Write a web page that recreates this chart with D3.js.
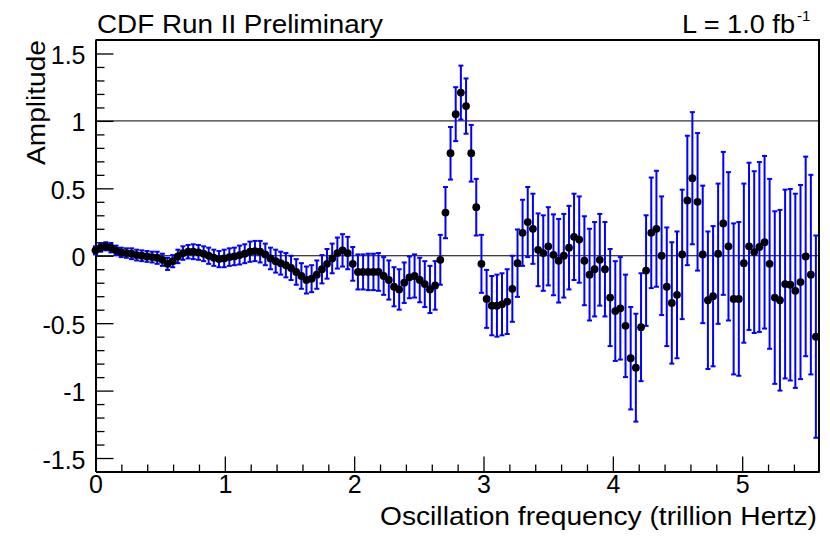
<!DOCTYPE html>
<html>
<head>
<meta charset="utf-8">
<script src="https://cdn.jsdelivr.net/npm/d3@7"></script>
<style>
  html, body { margin: 0; padding: 0; background: #fff; }
  svg { display: block; }
  text { font-family: "Liberation Sans", Arial, Helvetica, sans-serif; fill: #000; }
</style>
</head>
<body>
<svg id="chart" width="830" height="536"></svg>
<script>
// Oscillation frequency of each scan point (trillion Hertz)
const frequency = [
  0.000,0.040,0.080,0.119,0.159,0.199,0.239,0.279,0.318,0.358,
  0.398,0.438,0.477,0.517,0.557,0.597,0.637,0.676,0.716,0.756,
  0.796,0.836,0.875,0.915,0.955,0.995,1.035,1.074,1.114,1.154,
  1.194,1.233,1.273,1.313,1.353,1.393,1.432,1.472,1.512,1.552,
  1.592,1.631,1.671,1.711,1.751,1.790,1.830,1.870,1.910,1.950,
  1.989,2.029,2.069,2.109,2.149,2.188,2.228,2.268,2.308,2.348,
  2.387,2.427,2.467,2.507,2.546,2.586,2.626,2.666,2.706,2.745,
  2.785,2.825,2.865,2.905,2.944,2.984,3.024,3.064,3.104,3.143,
  3.183,3.223,3.263,3.302,3.342,3.382,3.422,3.462,3.501,3.541,
  3.581,3.621,3.661,3.700,3.740,3.780,3.820,3.859,3.899,3.939,
  3.979,4.019,4.058,4.098,4.138,4.178,4.218,4.257,4.297,4.337,
  4.377,4.417,4.456,4.496,4.536,4.576,4.615,4.655,4.695,4.735,
  4.775,4.814,4.854,4.894,4.934,4.974,5.013,5.053,5.093,5.133,
  5.173,5.212,5.252,5.292,5.332,5.372,5.411,5.451,5.491,5.531,
  5.570
];

// Measured amplitude
const amplitude = [
  0.04,0.06,0.07,0.06,0.04,0.025,0.02,0.015,0.005,0.0,
  -0.005,-0.01,-0.015,-0.03,-0.06,-0.04,-0.005,0.02,0.03,0.03,
  0.025,0.015,0.0,-0.015,-0.025,-0.02,-0.01,-0.005,0.005,0.015,
  0.03,0.035,0.03,0.01,-0.02,-0.04,-0.055,-0.07,-0.09,-0.12,
  -0.15,-0.18,-0.17,-0.14,-0.10,-0.06,-0.02,0.02,0.04,0.02,
  -0.06,-0.12,-0.12,-0.12,-0.12,-0.12,-0.15,-0.18,-0.23,-0.25,
  -0.20,-0.16,-0.15,-0.18,-0.21,-0.25,-0.22,-0.03,0.32,0.76,
  1.05,1.21,1.11,0.76,0.36,-0.06,-0.32,-0.37,-0.37,-0.36,
  -0.34,-0.245,-0.055,0.17,0.25,0.20,0.044,0.02,0.07,0.007,
  -0.037,0.0,0.06,0.14,0.12,-0.037,-0.14,-0.10,-0.03,-0.10,
  -0.31,-0.41,-0.39,-0.52,-0.76,-0.83,-0.53,-0.11,0.17,0.20,
  0.0,-0.23,-0.35,-0.29,0.01,0.41,0.575,0.40,0.01,-0.33,
  -0.30,0.015,0.24,0.07,-0.32,-0.32,-0.055,0.07,0.027,0.065,
  0.10,-0.06,-0.31,-0.33,-0.21,-0.215,-0.26,-0.195,-0.005,-0.14,
  -0.60
];

// Uncertainty on the amplitude (half length of each error bar)
const amplitudeError = [
  0.03,0.03,0.03,0.035,0.035,0.035,0.035,0.04,0.04,0.04,
  0.04,0.04,0.045,0.045,0.045,0.045,0.05,0.05,0.05,0.055,
  0.055,0.055,0.06,0.06,0.06,0.065,0.065,0.065,0.07,0.07,
  0.075,0.075,0.08,0.08,0.08,0.085,0.085,0.09,0.09,0.095,
  0.095,0.10,0.10,0.105,0.105,0.11,0.11,0.115,0.12,0.12,
  0.125,0.13,0.13,0.135,0.135,0.14,0.14,0.145,0.145,0.15,
  0.15,0.155,0.16,0.165,0.17,0.175,0.18,0.185,0.19,0.195,
  0.20,0.20,0.205,0.21,0.21,0.215,0.215,0.22,0.23,0.23,
  0.24,0.245,0.25,0.245,0.26,0.26,0.27,0.28,0.29,0.30,
  0.31,0.31,0.31,0.32,0.32,0.33,0.34,0.35,0.34,0.35,
  0.36,0.37,0.38,0.38,0.38,0.40,0.40,0.41,0.41,0.43,
  0.44,0.44,0.45,0.47,0.48,0.48,0.49,0.51,0.51,0.51,
  0.52,0.52,0.53,0.55,0.56,0.57,0.59,0.62,0.60,0.63,
  0.64,0.63,0.64,0.67,0.70,0.71,0.72,0.72,0.74,0.74,
  0.75
];

const xMajorTicks = [0, 1, 2, 3, 4, 5];
const xMinorTicks = [0.2,0.4,0.6,0.8,1.2,1.4,1.6,1.8,2.2,2.4,2.6,2.8,3.2,3.4,3.6,3.8,4.2,4.4,4.6,4.8,5.2,5.4];
const yMajorTicks = [-1.5, -1, -0.5, 0, 0.5, 1, 1.5];
const yMinorTicks = [-1.4,-1.3,-1.2,-1.1,-0.9,-0.8,-0.7,-0.6,-0.4,-0.3,-0.2,-0.1,0.1,0.2,0.3,0.4,0.6,0.7,0.8,0.9,1.1,1.2,1.3,1.4];
const referenceLines = [0, 1];

const titleText = "CDF Run II Preliminary";
const lumiText = "L = 1.0 fb";
const lumiSup = "-1";
const xTitle = "Oscillation frequency (trillion Hertz)";
const yTitle = "Amplitude";

const data = frequency.map((f, i) => ({ f, a: amplitude[i], e: amplitudeError[i] }));

const svg = d3.select("#chart");
const plot = { left: 95.5, right: 819, top: 40, bottom: 471.5 };

const x = d3.scaleLinear().domain([0, 5.594]).range([plot.left, plot.right]);
const y = d3.scaleLinear().domain([-1.6, 1.6]).range([plot.bottom, plot.top]);

// frame (top & right)
svg.append("path")
  .attr("d", `M${plot.left},${plot.top}H${plot.right}V${plot.bottom}`)
  .attr("fill", "none").attr("stroke", "#000").attr("stroke-width", 2);

// reference lines
svg.append("g").selectAll("line").data(referenceLines).join("line")
  .attr("x1", plot.left).attr("x2", plot.right)
  .attr("y1", d => y(d)).attr("y2", d => y(d))
  .attr("stroke", "#000").attr("stroke-width", 1);

// axes
const fmtY = d => (d < 0 ? "-" : "") + Math.abs(d).toString();

const yMinor = svg.append("g").attr("transform", `translate(${plot.left},0)`)
  .call(d3.axisLeft(y).tickValues(yMinorTicks).tickSize(-9).tickSizeOuter(0).tickFormat(""));
const yMajor = svg.append("g").attr("transform", `translate(${plot.left},0)`)
  .call(d3.axisLeft(y).tickValues(yMajorTicks).tickSize(-18).tickSizeOuter(0).tickPadding(10).tickFormat(fmtY));

const xMinor = svg.append("g").attr("transform", `translate(0,${plot.bottom})`)
  .call(d3.axisBottom(x).tickValues(xMinorTicks).tickSize(-7).tickSizeOuter(0).tickFormat(""));
const xMajor = svg.append("g").attr("transform", `translate(0,${plot.bottom})`)
  .call(d3.axisBottom(x).tickValues(xMajorTicks).tickSize(-15).tickSizeOuter(0).tickPadding(4).tickFormat(d3.format("d")));

[yMinor, yMajor, xMinor, xMajor].forEach(g => {
  g.selectAll(".domain").attr("stroke", "#000").attr("stroke-width", 2);
  g.selectAll(".tick line").attr("stroke", "#000").attr("stroke-width", 1.3);
  g.selectAll("text").attr("font-size", 25).attr("fill", "#000")
    .attr("font-family", "'Liberation Sans', Arial, sans-serif");
});
yMajor.selectAll("text").attr("dy", "0.4em");

// error bars
const eb = svg.append("g").attr("class", "errors");
eb.selectAll("line.bar").data(data).join("line").attr("class", "bar")
  .attr("x1", d => x(d.f)).attr("x2", d => x(d.f))
  .attr("y1", d => y(d.a + d.e)).attr("y2", d => y(d.a - d.e))
  .attr("stroke", "#0000ff").attr("stroke-width", 2);
eb.selectAll("line.capTop").data(data).join("line").attr("class", "capTop")
  .attr("x1", d => x(d.f) - 2.5).attr("x2", d => x(d.f) + 2.5)
  .attr("y1", d => y(d.a + d.e)).attr("y2", d => y(d.a + d.e))
  .attr("stroke", "#0000ff").attr("stroke-width", 2);
eb.selectAll("line.capBot").data(data).join("line").attr("class", "capBot")
  .attr("x1", d => x(d.f) - 2.5).attr("x2", d => x(d.f) + 2.5)
  .attr("y1", d => y(d.a - d.e)).attr("y2", d => y(d.a - d.e))
  .attr("stroke", "#0000ff").attr("stroke-width", 2);

// markers
svg.append("g").selectAll("circle").data(data).join("circle")
  .attr("cx", d => x(d.f)).attr("cy", d => y(d.a)).attr("r", 3.9)
  .attr("fill", "#000");

// texts
svg.append("text").attr("x", 97).attr("y", 33).attr("font-size", 25.5)
  .attr("textLength", 286).attr("lengthAdjust", "spacingAndGlyphs").text(titleText);
svg.append("text").attr("x", 682).attr("y", 33).attr("font-size", 25.5)
  .attr("textLength", 113).attr("lengthAdjust", "spacingAndGlyphs").text(lumiText);
svg.append("text").attr("x", 797).attr("y", 21).attr("font-size", 15).text(lumiSup);

svg.append("text").attr("x", 380).attr("y", 525).attr("font-size", 25.5)
  .attr("textLength", 437).attr("lengthAdjust", "spacingAndGlyphs").text(xTitle);
svg.append("text").attr("transform", "translate(45,165) rotate(-90)")
  .attr("font-size", 25.5).attr("textLength", 125).attr("lengthAdjust", "spacingAndGlyphs").text(yTitle);
</script>
</body>
</html>
